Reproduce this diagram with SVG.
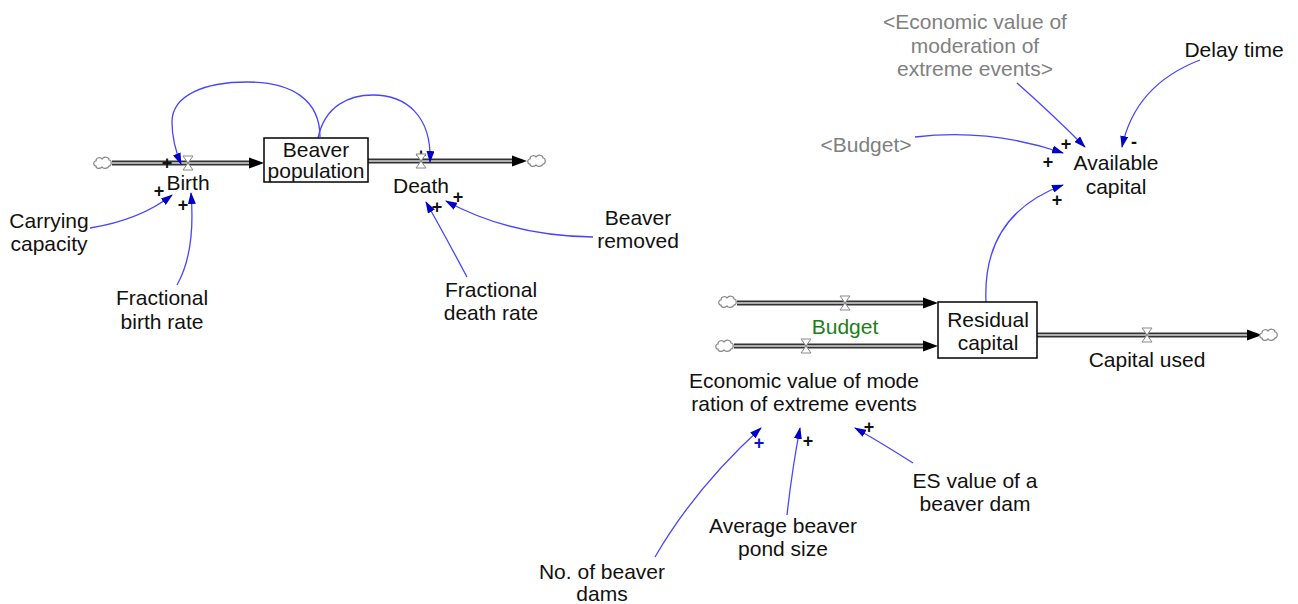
<svg xmlns="http://www.w3.org/2000/svg" width="1298" height="604" viewBox="0 0 1298 604">
<style>
.lbl{font-family:"Liberation Sans",Arial,sans-serif;font-size:21px;fill:#111;text-anchor:middle}
.gray{fill:#808080}
.green{fill:#1a801a}
.sign{font-family:"Liberation Sans",Arial,sans-serif;font-size:18px;font-weight:bold;fill:#111;text-anchor:middle}
.bsign{fill:#1010d0}
.link{fill:none;stroke:#4646ff;stroke-width:1.3;marker-end:url(#la)}
.pipeo{stroke:#333;stroke-width:5;fill:none}
.pipei{stroke:#d8d8d8;stroke-width:1.6;fill:none}
.box{fill:#fff;stroke:#000;stroke-width:1.5}
.valve{fill:#fff;stroke:#888;stroke-width:1}
.cloud{fill:#fff;stroke:#888;stroke-width:1.2}
.parrow{fill:#000}
</style>
<defs>
<marker id="la" markerUnits="userSpaceOnUse" markerWidth="12" markerHeight="8" refX="11" refY="4" orient="auto">
<path d="M0,0 L12,4 L0,8 z" fill="#0000c8"/>
</marker>
<path id="cloud" class="cloud" d="M-7,3 C-10,3 -10,-2 -7,-2 C-7,-6 -2,-6 -1,-4 C1,-7 6,-6 6,-3 C9,-3 9,3 6,3 C5,6 0,6 -1,4 C-3,6 -7,6 -7,3 z"/>
<path id="valve" class="valve" d="M-5,-7 H5 L-5,7 H5 Z"/>
<path id="parrow" class="parrow" d="M-15,-5.5 L0,0 L-15,5.5 z"/>
</defs>
<rect width="1298" height="604" fill="#fff"/>

<g id="connectors">
  <g id="pipes">
    <path class="pipeo" d="M112,163 H250"/><path class="pipei" d="M112,163 H250"/>
    <use href="#parrow" x="264" y="163"/>
    <use href="#cloud" x="103" y="163"/>
    <path class="pipeo" d="M368,161 H513"/><path class="pipei" d="M368,161 H513"/>
    <use href="#parrow" x="527" y="161"/>
    <use href="#cloud" x="537" y="161"/>
    <path class="pipeo" d="M737,303 H924"/><path class="pipei" d="M737,303 H924"/>
    <use href="#parrow" x="938" y="303"/>
    <use href="#cloud" x="728" y="302"/>
    <path class="pipeo" d="M734,346 H924"/><path class="pipei" d="M734,346 H924"/>
    <use href="#parrow" x="938" y="346"/>
    <use href="#cloud" x="725" y="346"/>
    <path class="pipeo" d="M1037,335 H1248"/><path class="pipei" d="M1037,335 H1248"/>
    <use href="#parrow" x="1262" y="335"/>
    <use href="#cloud" x="1269" y="335"/>
  </g>
  <path class="link" d="M320,137 C320,100 292,82 247,82 C205,82 172,95 172,122 C172,140 176,152 181,164"/>
  <path class="link" d="M318,138 C325,105 350,95 373,95 C405,95 432,115 430,162"/>
  <path class="link" d="M90,228 Q140,220 172,195"/>
  <path class="link" d="M177,285 C190,262 194,230 191,193"/>
  <path class="link" d="M467,277 Q443,232 426,202"/>
  <path class="link" d="M593,237 Q510,236 446,201"/>
  <path class="link" d="M1017,83 Q1050,112 1085,147"/>
  <path class="link" d="M1200,60 Q1135,85 1122,147"/>
  <path class="link" d="M915,137 Q990,128 1063,153"/>
  <path class="link" d="M986,302 Q982,215 1063,185"/>
  <path class="link" d="M655,557 Q695,488 761,428"/>
  <path class="link" d="M787,515 Q792,470 800,428"/>
  <path class="link" d="M913,463 Q880,442 855,428"/>
  <g id="signs">
    <text class="sign" x="167" y="169">+</text>
    <text class="sign" x="159" y="197">+</text>
    <text class="sign" x="183" y="211">+</text>
    <text class="sign" x="421" y="161">+</text>
    <text class="sign" x="437" y="213">+</text>
    <text class="sign" x="458" y="203">+</text>
    <text class="sign" x="1066" y="150">+</text>
    <text class="sign" x="1048" y="168">+</text>
    <text class="sign" x="1057" y="206">+</text>
    <text class="sign" x="1134" y="148">-</text>
    <text class="sign bsign" x="759" y="449">+</text>
    <text class="sign" x="808" y="447">+</text>
    <text class="sign" x="869" y="433">+</text>
  </g>
</g>

<g id="beaver-population">
  <rect class="box" x="264" y="138" width="104" height="44"/>
  <text class="lbl" x="316" y="157">Beaver</text>
  <text class="lbl" x="316" y="178">population</text>
</g>
<g id="birth">
  <use href="#valve" x="188" y="163"/>
  <text class="lbl" x="188" y="190">Birth</text>
</g>
<g id="death">
  <use href="#valve" x="421" y="161"/>
  <text class="lbl" x="421" y="193">Death</text>
</g>
<g id="carrying-capacity">
  <text class="lbl" x="49" y="228">Carrying</text>
  <text class="lbl" x="49" y="251">capacity</text>
</g>
<g id="fractional-birth-rate">
  <text class="lbl" x="162" y="305">Fractional</text>
  <text class="lbl" x="162" y="329">birth rate</text>
</g>
<g id="fractional-death-rate">
  <text class="lbl" x="491" y="297">Fractional</text>
  <text class="lbl" x="491" y="320">death rate</text>
</g>
<g id="beaver-removed">
  <text class="lbl" x="638" y="225">Beaver</text>
  <text class="lbl" x="638" y="248">removed</text>
</g>
<g id="economic-value-shadow">
  <text class="lbl gray" x="975" y="29">&lt;Economic value of</text>
  <text class="lbl gray" x="975" y="53">moderation of</text>
  <text class="lbl gray" x="975" y="76">extreme events&gt;</text>
</g>
<g id="delay-time">
  <text class="lbl" x="1234" y="57">Delay time</text>
</g>
<g id="budget-shadow">
  <text class="lbl gray" x="866" y="152">&lt;Budget&gt;</text>
</g>
<g id="available-capital">
  <text class="lbl" x="1116" y="170">Available</text>
  <text class="lbl" x="1116" y="194">capital</text>
</g>
<g id="residual-capital">
  <rect class="box" x="938" y="302" width="99" height="56"/>
  <text class="lbl" x="988" y="327">Residual</text>
  <text class="lbl" x="988" y="350">capital</text>
</g>
<g id="budget">
  <use href="#valve" x="845" y="303"/>
  <text class="lbl green" x="845" y="334">Budget</text>
</g>
<g id="economic-value">
  <use href="#valve" x="806" y="346"/>
  <text class="lbl" x="804" y="388">Economic value of mode</text>
  <text class="lbl" x="804" y="411">ration of extreme events</text>
</g>
<g id="capital-used">
  <use href="#valve" x="1147" y="335"/>
  <text class="lbl" x="1147" y="367">Capital used</text>
</g>
<g id="no-of-beaver-dams">
  <text class="lbl" x="602" y="579">No. of beaver</text>
  <text class="lbl" x="602" y="601">dams</text>
</g>
<g id="average-beaver-pond-size">
  <text class="lbl" x="783" y="533">Average beaver</text>
  <text class="lbl" x="783" y="556">pond size</text>
</g>
<g id="es-value">
  <text class="lbl" x="975" y="488">ES value of a</text>
  <text class="lbl" x="975" y="511">beaver dam</text>
</g>
</svg>
